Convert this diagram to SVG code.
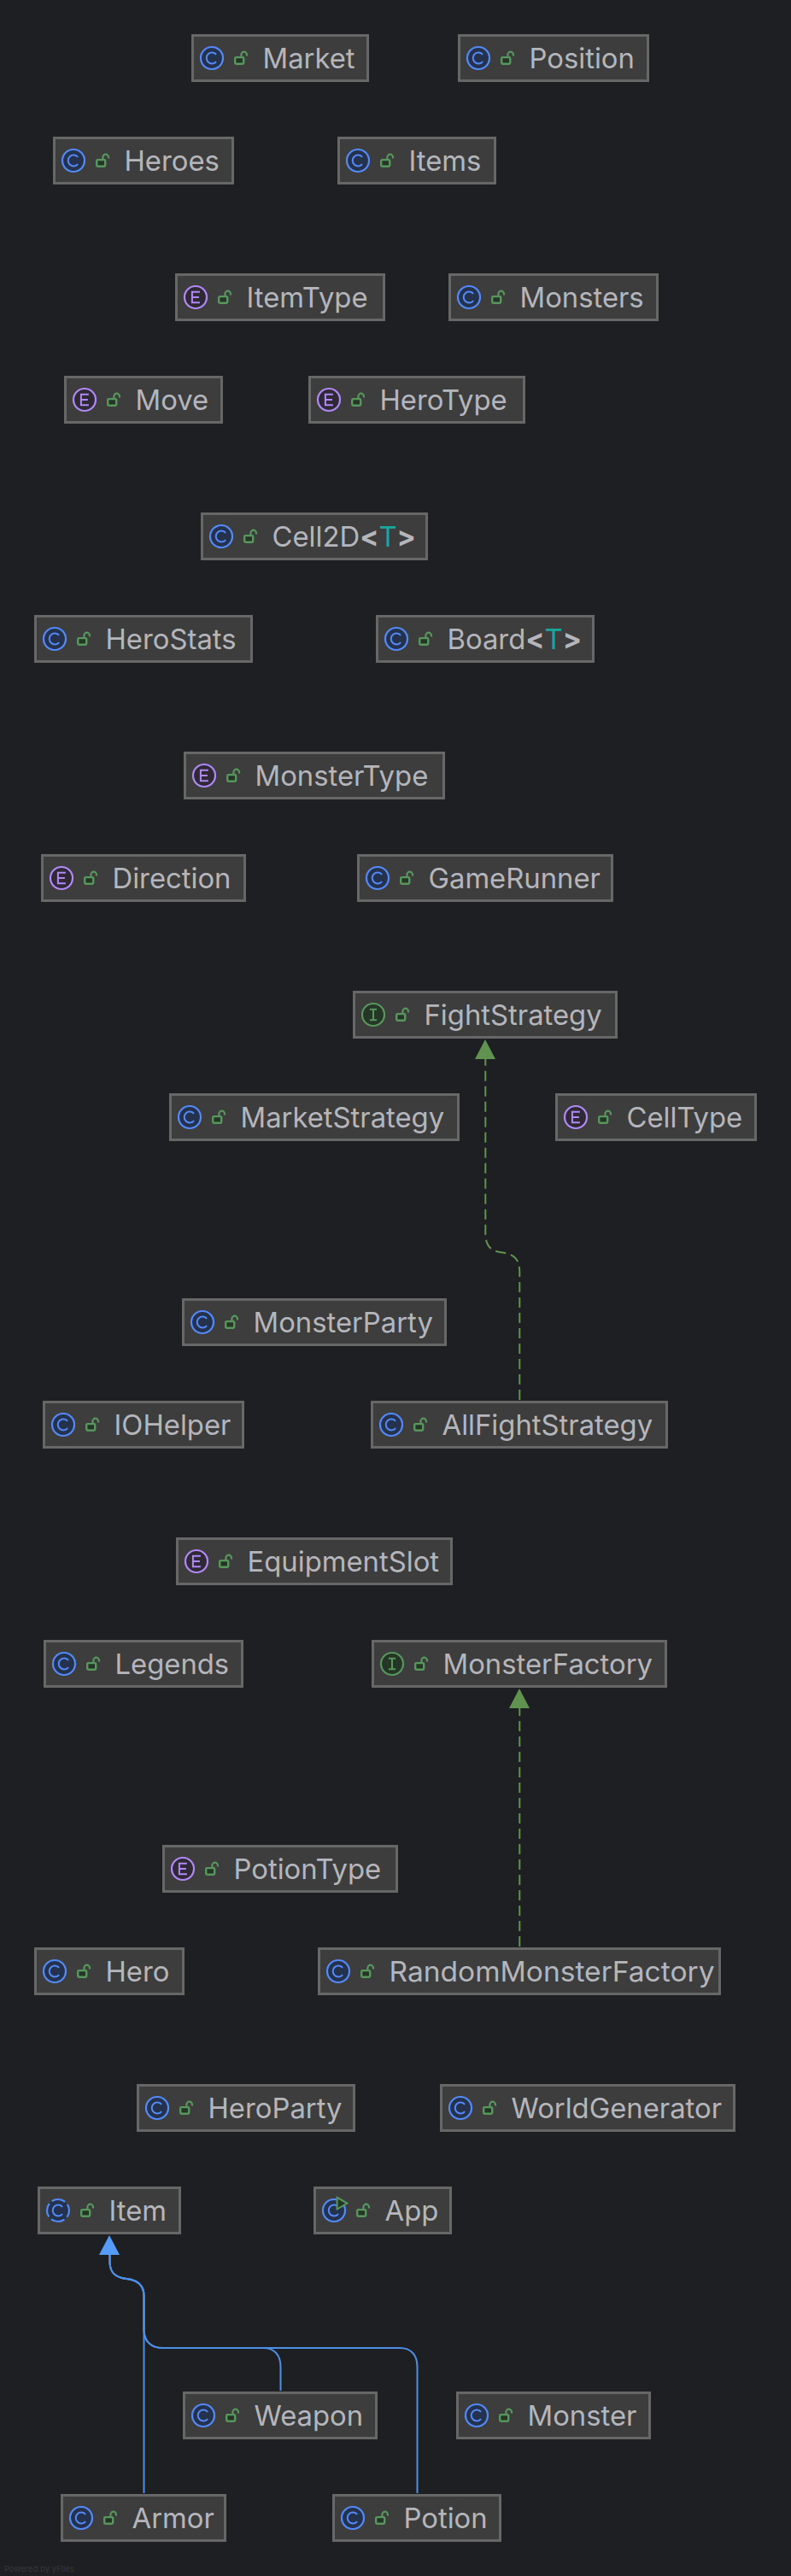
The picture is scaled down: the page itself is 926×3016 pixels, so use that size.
<svg xmlns="http://www.w3.org/2000/svg" width="926" height="3016" viewBox="0 0 926 3016">
<style>
.box{fill:#3d3d3d;stroke:#676767;stroke-width:3}
.t{font-family:"Inter","Liberation Sans",sans-serif;font-size:32.8px;fill:#b5b6bc}
.gen{fill:#16a99b}
.b{font-weight:700}
.ic{stroke-width:2.2}
.c{fill:#25324d;stroke:#548af7}
.e{fill:#2f2936;stroke:#b189f5}
.i{fill:#253627;stroke:#57965c}
.g{fill:none;stroke-width:2}
.lock{fill:#253627;stroke:#57965c;stroke-width:2.4}
.lk{fill:none;stroke:#57965c;stroke-width:2.2}
.impl{fill:none;stroke:#5f934f;stroke-width:2;stroke-dasharray:12 6}
.ext{fill:none;stroke:#4e8fe6;stroke-width:2}
.credit{font-family:"Inter","Liberation Sans",sans-serif;font-size:9.5px;fill:#35373b}
</style>
<defs>
<g id="lk"><path class="lk" d="M58.4 26.6V24A3.3 3.3 0 0 1 65 24V25.6"/><rect class="lock" x="51.2" y="27.1" width="10" height="7.6" rx="1.2"/></g>
<g id="cI"><circle class="ic c" cx="24" cy="28" r="13"/><path class="g" stroke="#548af7" d="M29.1 23.95A6.4 6.4 0 1 0 29.1 32.05"/></g>
<g id="aI"><circle class="ic c" cx="24" cy="28" r="13" stroke-dasharray="16.4 4" stroke-dashoffset="8"/><path class="g" stroke="#548af7" d="M29.1 23.95A6.4 6.4 0 1 0 29.1 32.05"/></g>
<g id="eI"><circle class="ic e" cx="24" cy="28" r="13"/><path class="g" stroke="#b189f5" d="M28.9 21.8H19.9V34.2H28.9M19.9 28H27.9"/></g>
<g id="iI"><circle class="ic i" cx="24" cy="28" r="13"/><path class="g" stroke="#57965c" d="M19.9 21.8H28.1M19.9 34.2H28.1M24 21.8V34.2"/></g>
<g id="run"><path fill="#253627" stroke="#57965c" stroke-width="2" d="M27.6 12.8V26.6L39.4 19.6Z"/></g>
</defs>
<rect width="926" height="3016" fill="#1e1f22"/>

<g id="connectors">
<path class="impl" d="M608.3 1639V1490C608.3 1474 602 1468.5 588 1466.5C574 1464.5 568.3 1459 568.3 1443V1240"/>
<path fill="#5f934f" d="M568 1217L580 1240H556Z"/>
<path class="impl" d="M608.3 2279V2000"/>
<path fill="#5f934f" d="M608 1977L620 2000H596Z"/>
<path class="ext" d="M168.5 2919V2688C168.5 2676 162 2669.5 148 2668C134 2666.5 128.5 2660 128.5 2648V2640"/>
<path class="ext" d="M328.5 2799V2771C328.5 2757 321 2749 308 2749H190C177 2749 168.5 2741 168.5 2728V2688C168.5 2676 162 2669.5 148 2668C134 2666.5 128.5 2660 128.5 2648V2640"/>
<path class="ext" d="M488.5 2919V2771C488.5 2757 481 2749 468 2749H190C177 2749 168.5 2741 168.5 2728V2688C168.5 2676 162 2669.5 148 2668C134 2666.5 128.5 2660 128.5 2648V2640"/>
<path fill="#549cf8" d="M128 2617L140 2640H116Z"/>
</g>

<g id="Market" transform="translate(224 40)"><rect class="box" x="1.5" y="1.5" width="205" height="53"/><use href="#cI"/><use href="#lk"/><text class="t" x="83.5" y="40">Market</text></g>
<g id="Position" transform="translate(536 40)"><rect class="box" x="1.5" y="1.5" width="221" height="53"/><use href="#cI"/><use href="#lk"/><text class="t" x="83.5" y="40">Position</text></g>
<g id="Heroes" transform="translate(62 160)"><rect class="box" x="1.5" y="1.5" width="209" height="53"/><use href="#cI"/><use href="#lk"/><text class="t" x="83.5" y="40">Heroes</text></g>
<g id="Items" transform="translate(395 160)"><rect class="box" x="1.5" y="1.5" width="183" height="53"/><use href="#cI"/><use href="#lk"/><text class="t" x="83.5" y="40">Items</text></g>
<g id="ItemType" transform="translate(205 320)"><rect class="box" x="1.5" y="1.5" width="243" height="53"/><use href="#eI"/><use href="#lk"/><text class="t" x="83.5" y="40">ItemType</text></g>
<g id="Monsters" transform="translate(525 320)"><rect class="box" x="1.5" y="1.5" width="243" height="53"/><use href="#cI"/><use href="#lk"/><text class="t" x="83.5" y="40">Monsters</text></g>
<g id="Move" transform="translate(75 440)"><rect class="box" x="1.5" y="1.5" width="183" height="53"/><use href="#eI"/><use href="#lk"/><text class="t" x="83.5" y="40">Move</text></g>
<g id="HeroType" transform="translate(361 440)"><rect class="box" x="1.5" y="1.5" width="251" height="53"/><use href="#eI"/><use href="#lk"/><text class="t" x="83.5" y="40">HeroType</text></g>
<g id="Cell2D" transform="translate(235 600)"><rect class="box" x="1.5" y="1.5" width="263" height="53"/><use href="#cI"/><use href="#lk"/><text class="t" x="83.5" y="40">Cell2D<tspan class="b">&lt;</tspan><tspan class="gen">T</tspan><tspan class="b">&gt;</tspan></text></g>
<g id="HeroStats" transform="translate(40 720)"><rect class="box" x="1.5" y="1.5" width="253" height="53"/><use href="#cI"/><use href="#lk"/><text class="t" x="83.5" y="40">HeroStats</text></g>
<g id="Board" transform="translate(440 720)"><rect class="box" x="1.5" y="1.5" width="253" height="53"/><use href="#cI"/><use href="#lk"/><text class="t" x="83.5" y="40">Board<tspan class="b">&lt;</tspan><tspan class="gen">T</tspan><tspan class="b">&gt;</tspan></text></g>
<g id="MonsterType" transform="translate(215 880)"><rect class="box" x="1.5" y="1.5" width="303" height="53"/><use href="#eI"/><use href="#lk"/><text class="t" x="83.5" y="40">MonsterType</text></g>
<g id="Direction" transform="translate(48 1000)"><rect class="box" x="1.5" y="1.5" width="237" height="53"/><use href="#eI"/><use href="#lk"/><text class="t" x="83.5" y="40">Direction</text></g>
<g id="GameRunner" transform="translate(418 1000)"><rect class="box" x="1.5" y="1.5" width="297" height="53"/><use href="#cI"/><use href="#lk"/><text class="t" x="83.5" y="40">GameRunner</text></g>
<g id="FightStrategy" transform="translate(413 1160)"><rect class="box" x="1.5" y="1.5" width="307" height="53"/><use href="#iI"/><use href="#lk"/><text class="t" x="83.5" y="40">FightStrategy</text></g>
<g id="MarketStrategy" transform="translate(198 1280)"><rect class="box" x="1.5" y="1.5" width="337" height="53"/><use href="#cI"/><use href="#lk"/><text class="t" x="83.5" y="40">MarketStrategy</text></g>
<g id="CellType" transform="translate(650 1280)"><rect class="box" x="1.5" y="1.5" width="233" height="53"/><use href="#eI"/><use href="#lk"/><text class="t" x="83.5" y="40">CellType</text></g>
<g id="MonsterParty" transform="translate(213 1520)"><rect class="box" x="1.5" y="1.5" width="307" height="53"/><use href="#cI"/><use href="#lk"/><text class="t" x="83.5" y="40">MonsterParty</text></g>
<g id="IOHelper" transform="translate(50 1640)"><rect class="box" x="1.5" y="1.5" width="233" height="53"/><use href="#cI"/><use href="#lk"/><text class="t" x="83.5" y="40">IOHelper</text></g>
<g id="AllFightStrategy" transform="translate(434 1640)"><rect class="box" x="1.5" y="1.5" width="345" height="53"/><use href="#cI"/><use href="#lk"/><text class="t" x="83.5" y="40">AllFightStrategy</text></g>
<g id="EquipmentSlot" transform="translate(206 1800)"><rect class="box" x="1.5" y="1.5" width="321" height="53"/><use href="#eI"/><use href="#lk"/><text class="t" x="83.5" y="40">EquipmentSlot</text></g>
<g id="Legends" transform="translate(51 1920)"><rect class="box" x="1.5" y="1.5" width="231" height="53"/><use href="#cI"/><use href="#lk"/><text class="t" x="83.5" y="40">Legends</text></g>
<g id="MonsterFactory" transform="translate(435 1920)"><rect class="box" x="1.5" y="1.5" width="343" height="53"/><use href="#iI"/><use href="#lk"/><text class="t" x="83.5" y="40">MonsterFactory</text></g>
<g id="PotionType" transform="translate(190 2160)"><rect class="box" x="1.5" y="1.5" width="273" height="53"/><use href="#eI"/><use href="#lk"/><text class="t" x="83.5" y="40">PotionType</text></g>
<g id="Hero" transform="translate(40 2280)"><rect class="box" x="1.5" y="1.5" width="173" height="53"/><use href="#cI"/><use href="#lk"/><text class="t" x="83.5" y="40">Hero</text></g>
<g id="RandomMonsterFactory" transform="translate(372 2280)"><rect class="box" x="1.5" y="1.5" width="469" height="53"/><use href="#cI"/><use href="#lk"/><text class="t" x="83.5" y="40" textLength="381" lengthAdjust="spacingAndGlyphs">RandomMonsterFactory</text></g>
<g id="HeroParty" transform="translate(160 2440)"><rect class="box" x="1.5" y="1.5" width="253" height="53"/><use href="#cI"/><use href="#lk"/><text class="t" x="83.5" y="40">HeroParty</text></g>
<g id="WorldGenerator" transform="translate(515 2440)"><rect class="box" x="1.5" y="1.5" width="343" height="53"/><use href="#cI"/><use href="#lk"/><text class="t" x="83.5" y="40">WorldGenerator</text></g>
<g id="Item" transform="translate(44 2560)"><rect class="box" x="1.5" y="1.5" width="165" height="53"/><use href="#aI"/><use href="#lk"/><text class="t" x="83.5" y="40">Item</text></g>
<g id="App" transform="translate(367 2560)"><rect class="box" x="1.5" y="1.5" width="159" height="53"/><use href="#cI"/><use href="#run"/><use href="#lk"/><text class="t" x="83.5" y="40">App</text></g>
<g id="Weapon" transform="translate(214 2800)"><rect class="box" x="1.5" y="1.5" width="225" height="53"/><use href="#cI"/><use href="#lk"/><text class="t" x="83.5" y="40">Weapon</text></g>
<g id="Monster" transform="translate(534 2800)"><rect class="box" x="1.5" y="1.5" width="225" height="53"/><use href="#cI"/><use href="#lk"/><text class="t" x="83.5" y="40">Monster</text></g>
<g id="Armor" transform="translate(71 2920)"><rect class="box" x="1.5" y="1.5" width="191" height="53"/><use href="#cI"/><use href="#lk"/><text class="t" x="83.5" y="40">Armor</text></g>
<g id="Potion" transform="translate(389 2920)"><rect class="box" x="1.5" y="1.5" width="195" height="53"/><use href="#cI"/><use href="#lk"/><text class="t" x="83.5" y="40">Potion</text></g>
<text class="credit" x="5" y="3011">Powered by yFiles</text>
</svg>
